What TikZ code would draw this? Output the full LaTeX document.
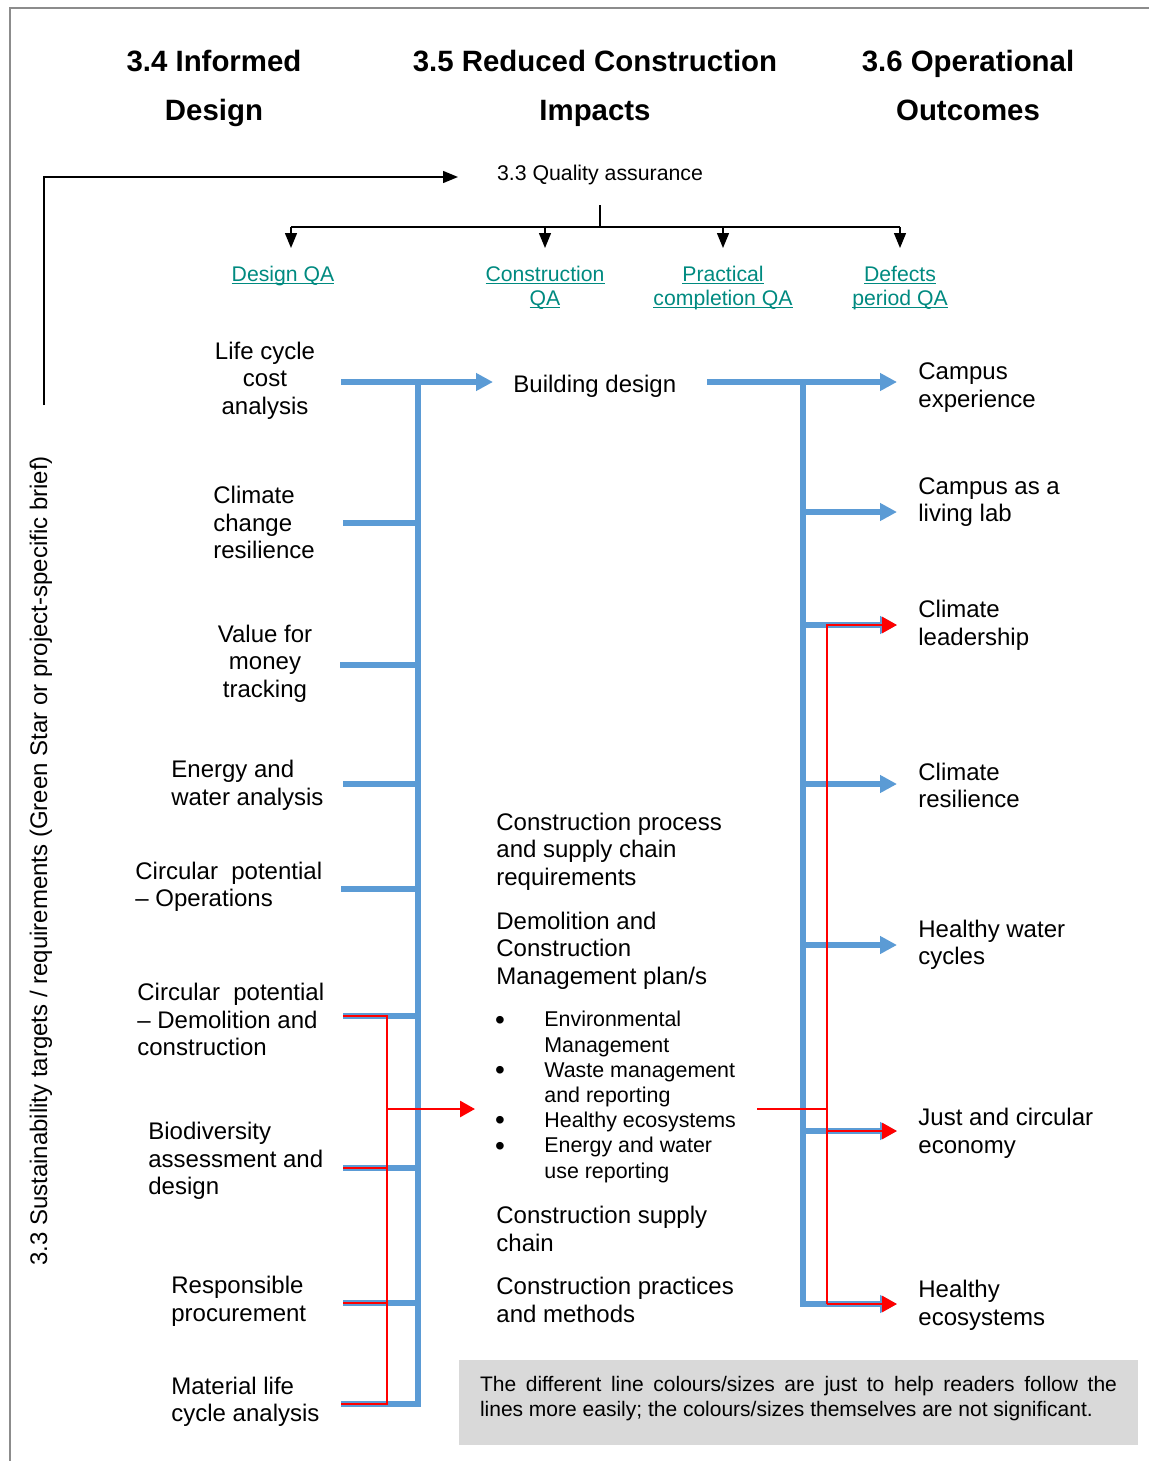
\documentclass[tikz,border=0pt]{standalone}
\usepackage{fontspec}
\setmainfont{Liberation Sans}
\usetikzlibrary{arrows.meta}
\definecolor{busblue}{HTML}{5B9BD5}
\definecolor{linkteal}{HTML}{008A80}
\definecolor{notegray}{HTML}{D9D9D9}
\definecolor{framegray}{HTML}{8C8C8C}
\newcommand\lnk[1]{\underline{\smash{#1}}}
\newcommand\bul{\makebox[24pt][l]{\hspace*{-0.6pt}\smash{\raisebox{-1.1pt}{\fontsize{14}{12.6}\selectfont\textbullet}}}}
\newcommand\ind{\hspace*{24pt}}
\begin{document}
\begin{tikzpicture}[x=0.5pt,y=-0.5pt,
  body/.style={inner sep=0pt, font=\fontsize{12}{13.75}\selectfont},
  lbody/.style={body, anchor=west, align=left},
  cbody/.style={body, align=center},
  head/.style={inner sep=0pt, align=center, font=\fontsize{14.7}{24.5}\selectfont\bfseries},
  qalink/.style={inner sep=0pt, align=center, text=linkteal, font=\fontsize{10.6}{12}\selectfont},
  bluel/.style={busblue, line width=3pt},
  bluearr/.style={bluel, -{Triangle[length=8.5pt,width=8.5pt]}},
  redl/.style={red, line width=1.4pt},
  redarr/.style={redl, -{Triangle[length=7.5pt,width=8pt]}},
  blk/.style={black, line width=0.7pt},
  blkarr/.style={blk, -{Triangle[length=7.5pt,width=6pt]}}
]
\useasboundingbox (0,0) rectangle (1149,1461);
\draw[framegray, line width=1pt] (10,1461) -- (10,8) -- (1149,8);

% headings
\node[head] (h34) at (214,88.5) {3.4 Informed\\Design\vphantom{g}};
\node[head] (h35) at (595,88.5) {3.5 Reduced Construction\\Impacts\vphantom{g}};
\node[head] (h36) at (968,88.5) {3.6 Operational\\Outcomes\vphantom{g}};

% quality assurance tree
\node[inner sep=0pt, font=\fontsize{10.65}{12}\selectfont] (qa) at (600,175) {3.3 Quality assurance};
\node[qalink] (dqa) at (283,283) {\lnk{Design QA}};
\node[qalink] (cqa) at (545,295) {\lnk{Construction}\\\lnk{QA}};
\node[qalink] (pqa) at (723,295) {\lnk{Practical}\\\lnk{completion QA}};
\node[qalink] (dpqa) at (900,295) {\lnk{Defects}\\\lnk{period QA}};
\coordinate (qastem) at (600,205);
\coordinate (qajoin) at (600,227);
\coordinate (qaL) at (291,227);
\coordinate (qaR) at (900,227);
\draw[blk] (qastem) -- (qajoin);
\draw[blk] (qaL) -- (qaR);
\draw[blkarr] (qaL) -- (291,248);
\draw[blkarr] (545,227) -- (545,248);
\draw[blkarr] (723,227) -- (723,248);
\draw[blkarr] (qaR) -- (900,248);

% side label and arrow
\node[body, rotate=90] (side) at (41,861) {3.3 Sustainability targets / requirements (Green Star or project-specific brief)};
\coordinate (sideTop) at (44,405);
\coordinate (sideCorner) at (44,177);
\coordinate (qaIn) at (458,177);
\draw[blkarr] (sideTop) -- (sideCorner) -- (qaIn);

% left column texts
\node[cbody] (lca) at (265,380.5) {Life cycle\\cost\\analysis};
\node[lbody] (ccr) at (213,522.5) {Climate\\change\\resilience};
\node[cbody] (vfm) at (265,663.5) {Value for\\money\\tracking};
\node[lbody] (ewa) at (171,785.5) {Energy and\\water analysis};
\node[lbody] (cpo) at (135,887) {Circular\ \ potential\\– Operations};
\node[lbody] (cpd) at (137,1019.5) {Circular\ \ potential\\– Demolition and\\construction};
\node[lbody] (bio) at (148,1161) {Biodiversity\\assessment and\\design};
\node[lbody] (rp) at (171,1301.5) {Responsible\\procurement};
\node[lbody] (mlc) at (171,1402) {Material life\\cycle analysis};

% middle texts
\node[lbody] (bd) at (513,386) {Building design};
\node[lbody] (cps) at (496,851.5) {Construction process\\and supply chain\\requirements};
\node[lbody] (dcm) at (496,950.5) {Demolition and\\Construction\\Management plan/s};
\node[inner sep=0pt, anchor=west, align=left, font=\fontsize{10.7}{12.6}\selectfont] (bl) at (496,1097)
 {\bul Environmental\\\ind Management\\\bul Waste management\\\ind and reporting\\\bul Healthy ecosystems\\\bul Energy and water\\\ind use reporting};
\node[lbody] (csc) at (496,1229) {Construction supply\\chain};
\node[lbody] (cpm) at (496,1300) {Construction practices\\and methods};

% right texts
\node[lbody] (ce) at (918,387.5) {Campus\\experience};
\node[lbody] (cll) at (918,502) {Campus as a\\living lab};
\node[lbody] (cl) at (918,625.5) {Climate\\leadership};
\node[lbody] (cr) at (918,785.5) {Climate\\resilience};
\node[lbody] (hwc) at (918,945) {Healthy water\\cycles};
\node[lbody] (jce) at (918,1133.5) {Just and circular\\economy};
\node[lbody] (he) at (918,1305.5) {Healthy\\ecosystems};

% note
\fill[notegray] (459,1360) rectangle (1138,1445);
\node[inner sep=0pt, text width=318.5pt, align=justify, font=\fontsize{10.5}{12.5}\selectfont] (note) at (798.5,1398.5)
 {The different line colours/sizes are just to help readers follow the\linebreak lines more easily; the colours/sizes themselves are not significant.};

% ---- left blue bus
\coordinate (lbTop) at (418,382);
\coordinate (lbBot) at (418,1404);
\draw[bluel, line join=miter] (341,1404) -- (lbBot) -- (lbTop);
\draw[bluearr] (341,382) -- (493,382);
\foreach \y/\x in {523/343, 665/340, 784/343, 889/341, 1016/343, 1168/343, 1303/343}
  \draw[bluel] (\x,\y) -- (418,\y);

% ---- right blue bus
\coordinate (rbTop) at (803,382);
\coordinate (rbBot) at (803,1304);
\draw[bluel] (707,382) -- (rbTop);
\draw[bluearr, line join=miter] (rbTop) -- (rbBot) -- (897,1304);
\foreach \y in {382,512,625,784,945,1131}
  \draw[bluearr] (803,\y) -- (897,\y);

% ---- left red
\draw[redl] (343,1016) -- (387,1016) -- (387,1404) -- (341,1404);
\draw[redl] (343,1168) -- (387,1168);
\draw[redl] (343,1303) -- (387,1303);
\draw[redarr] (387,1109) -- (475,1109);

% ---- right red
\draw[redl] (757,1109) -- (827,1109);
\draw[redarr] (827,1304) -- (827,625) -- (897,625);
\draw[redarr] (827,1304) -- (897,1304);
\draw[redarr] (827,1131) -- (897,1131);
\end{tikzpicture}
\end{document}
